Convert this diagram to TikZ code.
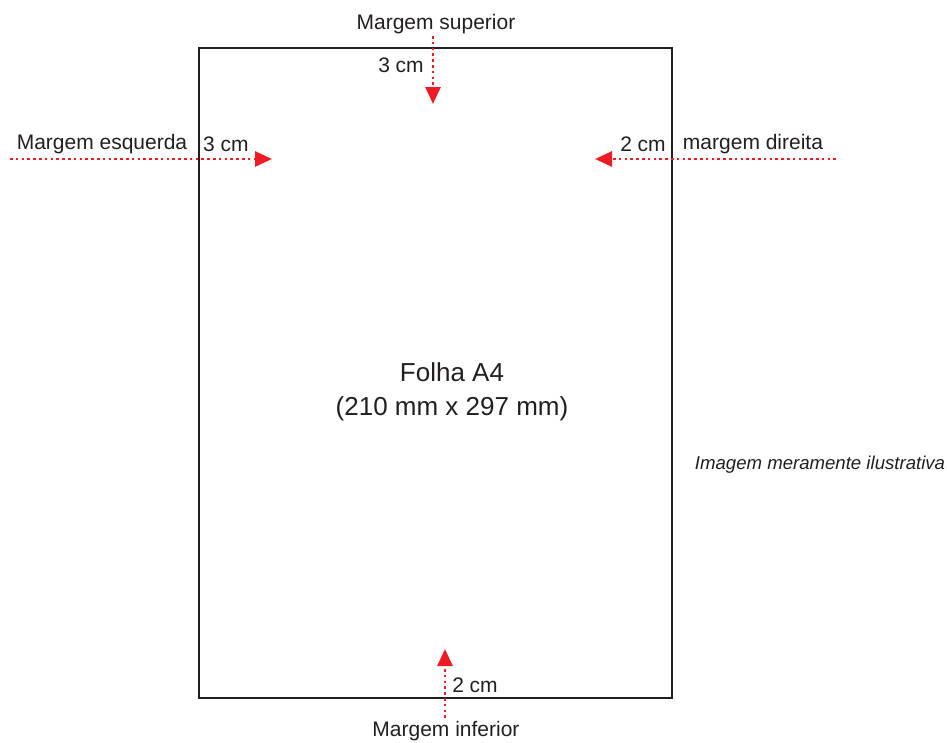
\documentclass[tikz,border=0pt]{standalone}
\usepackage{fontspec}
\setmainfont{Liberation Sans}
\usetikzlibrary{arrows.meta}
\definecolor{ink}{RGB}{35,31,32}
\definecolor{arrred}{RGB}{237,28,36}
\tikzset{
  lbl/.style={inner sep=0pt, text=ink, font=\fontsize{21}{25}\selectfont},
  big/.style={inner sep=0pt, text=ink, font=\fontsize{26}{31}\selectfont},
  marg/.style={draw=arrred, line width=2.8pt, dash pattern=on 2.6pt off 3.2pt,
    -{Triangle[length=17pt,width=15pt,fill=arrred]}},
  sheet/.style={draw=ink, line width=1.5pt}
}
\begin{document}
\begin{tikzpicture}[x=1pt,y=-1pt]
\useasboundingbox (0,0) rectangle (947,742);
\draw[sheet] (199,48) rectangle (672,698);
% top
\node[lbl] (tsup) at (436,24) {Margem superior};
\node[lbl] (t3) at (401,65) {3 cm};
\coordinate (ts) at (433,36);
\coordinate (te) at (433,104);
\draw[marg] (ts) -- (te);
% left
\node[lbl] (lesq) at (102,144) {Margem esquerda};
\node[lbl] (l3) at (226,144) {3 cm};
\coordinate (ls) at (10,159);
\coordinate (le) at (272,159);
\draw[marg] (ls) -- (le);
% right
\node[lbl] (rdir) at (753,144) {margem direita};
\node[lbl] (r2) at (643,144) {2 cm};
\coordinate (rs) at (836,159);
\coordinate (re) at (595,159);
\draw[marg] (rs) -- (re);
% bottom
\node[lbl] (binf) at (446,731) {Margem inferior};
\node[lbl] (b2) at (475,685) {2 cm};
\coordinate (bs) at (445,718);
\coordinate (be) at (445,649);
\draw[marg] (bs) -- (be);
% center
\node[big] (folha) at (452,372) {Folha A4};
\node[big] (dim) at (452,409) {(210 mm x 297 mm)};
\node[inner sep=0pt, text=ink, font=\fontsize{18.6}{22}\selectfont\itshape] (img) at (820,465) {Imagem meramente ilustrativa};
\end{tikzpicture}
\end{document}
